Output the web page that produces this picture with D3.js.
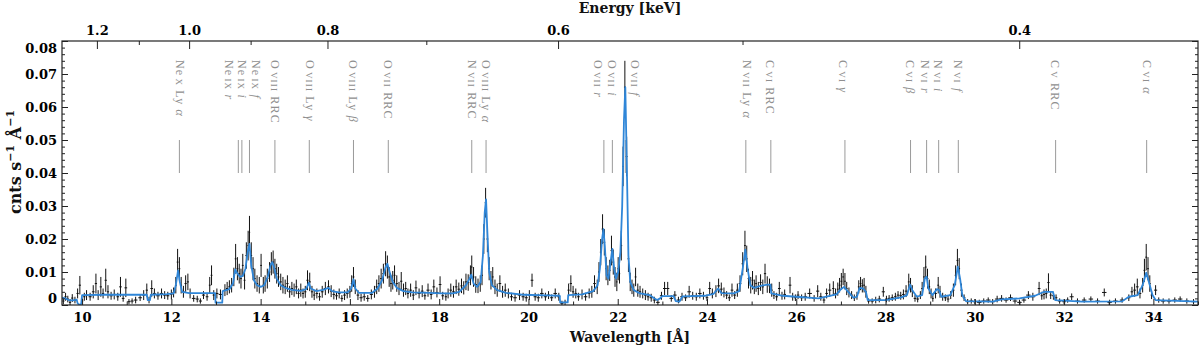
<!DOCTYPE html>
<html>
<head>
<meta charset="utf-8">
<script src="https://cdn.jsdelivr.net/npm/d3@7"></script>
<style>
  body { margin: 0; background: #fff; }
  svg { display: block; }
</style>
</head>
<body>
<div id="chart"></div>
<script>
// observed spectrum: [wavelength (A), flux (cnts/s/A), 1-sigma error]
const observed = [
  [9.58,.0012,.001],[9.63,.0025,.0012],[9.68,.0018,.001],[9.73,.0008,.001],[9.78,.0021,.0012],
  [9.84,.0015,.001],[9.90,.0035,.0015],[9.95,.0060,.0028],[10.00,.0012,.001],[10.05,.0025,.0012],
  [10.10,.0030,.0015],[10.18,.0025,.0012],[10.25,.0040,.002],[10.31,.0065,.003],[10.36,.0030,.0015],
  [10.42,.0055,.003],[10.47,.0035,.0015],[10.53,.0075,.0035],[10.58,.0040,.002],[10.65,.0028,.0012],
  [10.72,.0032,.0015],[10.80,.0025,.0012],[10.86,.0055,.003],[10.92,.0020,.001],[10.98,.0052,.0028],
  [11.05,.0010,.0008],[11.12,.0012,.0008],[11.20,.0015,.001],[11.30,.0022,.001],[11.38,.0030,.0015],
  [11.45,.0045,.002],[11.50,.0015,.001],[11.56,.0050,.0025],[11.62,.0035,.0015],[11.70,.0028,.0012],
  [11.78,.0035,.0015],[11.85,.0030,.0012],[11.92,.0028,.0012],[12.00,.0032,.0015],[12.05,.0038,.0015],
  [12.10,.0060,.0025],[12.14,.0130,.004],[12.18,.0110,.0035],[12.22,.0060,.0025],[12.27,.0040,.0018],
  [12.32,.0065,.0025],[12.37,.0070,.0025],[12.42,.0035,.0015],[12.50,.0020,.001],[12.58,.0018,.001],
  [12.65,.0012,.0008],[12.72,.0030,.0012],[12.80,.0025,.0012],[12.86,.0060,.0025],[12.90,.0090,.003],
  [12.95,.0030,.0015],[13.02,.0035,.0015],[13.10,.0032,.0015],[13.20,.0045,.0018],[13.25,.0050,.002],
  [13.30,.0055,.002],[13.35,.0060,.0022],[13.40,.0085,.0028],[13.44,.0140,.0045],[13.48,.0110,.0035],
  [13.52,.0095,.003],[13.56,.0080,.003],[13.60,.0120,.0035],[13.64,.0075,.0028],[13.68,.0150,.004],
  [13.72,.0180,.0045],[13.75,.0220,.005],[13.79,.0150,.004],[13.83,.0110,.0035],[13.87,.0080,.003],
  [13.92,.0065,.0025],[13.97,.0060,.0025],[14.01,.0120,.0035],[14.06,.0060,.0025],[14.10,.0065,.0025],
  [14.15,.0080,.003],[14.20,.0100,.003],[14.24,.0125,.0035],[14.28,.0130,.0035],[14.32,.0110,.003],
  [14.36,.0095,.003],[14.40,.0085,.003],[14.45,.0070,.0025],[14.50,.0060,.0025],[14.55,.0055,.0022],
  [14.60,.0065,.0025],[14.65,.0040,.0018],[14.70,.0050,.002],[14.75,.0045,.002],[14.80,.0055,.0022],
  [14.85,.0035,.0015],[14.90,.0045,.002],[14.95,.0035,.0015],[15.00,.0040,.0018],[15.05,.0075,.003],
  [15.10,.0070,.0028],[15.15,.0040,.0018],[15.20,.0030,.0015],[15.26,.0035,.0015],[15.32,.0025,.0012],
  [15.38,.0040,.0018],[15.45,.0050,.002],[15.52,.0055,.002],[15.58,.0042,.0018],[15.64,.0032,.0015],
  [15.70,.0028,.0012],[15.76,.0035,.0015],[15.82,.0020,.001],[15.88,.0030,.0015],[15.94,.0035,.0015],
  [16.00,.0040,.0018],[16.04,.0065,.0025],[16.08,.0085,.003],[16.12,.0055,.0022],[16.18,.0030,.0015],
  [16.25,.0022,.0012],[16.32,.0025,.0012],[16.40,.0020,.001],[16.48,.0032,.0015],[16.55,.0040,.0018],
  [16.60,.0055,.0022],[16.65,.0065,.0025],[16.70,.0080,.003],[16.75,.0095,.003],[16.80,.0125,.0038],
  [16.84,.0115,.0035],[16.88,.0085,.003],[16.92,.0065,.0025],[16.96,.0075,.0028],[17.00,.0090,.003],
  [17.05,.0065,.0025],[17.10,.0050,.002],[17.15,.0072,.0028],[17.20,.0045,.002],[17.25,.0050,.002],
  [17.30,.0035,.0015],[17.36,.0045,.002],[17.42,.0030,.0015],[17.48,.0052,.0022],[17.55,.0035,.0015],
  [17.62,.0042,.0018],[17.68,.0028,.0012],[17.75,.0045,.002],[17.82,.0032,.0015],[17.88,.0055,.0022],
  [17.95,.0038,.0015],[18.02,.0062,.0025],[18.08,.0028,.0012],[18.15,.0025,.0012],[18.20,.0035,.0015],
  [18.26,.0045,.002],[18.32,.0040,.0018],[18.38,.0055,.0022],[18.44,.0048,.002],[18.50,.0058,.0022],
  [18.55,.0052,.002],[18.60,.0070,.0025],[18.65,.0068,.0025],[18.70,.0090,.003],[18.73,.0115,.0035],
  [18.77,.0085,.003],[18.82,.0062,.0025],[18.87,.0058,.0022],[18.92,.0065,.0025],[18.96,.0090,.003],
  [19.00,.0200,.0045],[19.04,.0310,.0045],[19.08,.0200,.004],[19.12,.0110,.0035],[19.16,.0075,.0028],
  [19.20,.0085,.003],[19.25,.0055,.0022],[19.30,.0045,.002],[19.36,.0065,.0025],[19.42,.0040,.0018],
  [19.48,.0045,.002],[19.55,.0035,.0015],[19.62,.0025,.0012],[19.70,.0022,.0012],[19.80,.0030,.0015],
  [19.88,.0025,.0012],[19.95,.0022,.0012],[20.02,.0030,.0015],[20.08,.0075,.002],[20.15,.0025,.0012],
  [20.22,.0022,.0012],[20.30,.0035,.0015],[20.38,.0025,.0012],[20.45,.0030,.0012],[20.52,.0022,.001],
  [20.60,.0035,.0015],[20.68,.0025,.0012],[20.75,.0005,.0008],[20.82,.0008,.0008],[20.90,.0045,.002],
  [20.95,.0065,.0025],[21.00,.0040,.0018],[21.06,.0035,.0015],[21.12,.0025,.0012],[21.20,.0032,.0015],
  [21.28,.0025,.0012],[21.36,.0035,.0015],[21.42,.0040,.0018],[21.48,.0065,.0025],[21.54,.0055,.0022],
  [21.58,.0100,.003],[21.62,.0160,.004],[21.66,.0230,.0045],[21.70,.0190,.004],[21.74,.0110,.0035],
  [21.78,.0090,.003],[21.82,.0105,.0032],[21.86,.0165,.0045],[21.90,.0130,.0038],[21.94,.0085,.003],
  [21.98,.0070,.0028],[22.01,.0110,.0035],[22.04,.0095,.003],[22.08,.0180,.0045],[22.12,.0420,.006],
  [22.16,.0660,.008],[22.20,.0450,.006],[22.24,.0140,.004],[22.28,.0070,.0028],[22.32,.0055,.0022],
  [22.36,.0045,.002],[22.40,.0085,.0028],[22.45,.0045,.002],[22.50,.0040,.0018],[22.56,.0035,.0015],
  [22.62,.0030,.0015],[22.68,.0025,.0012],[22.75,.0022,.0012],[22.82,.0015,.001],[22.90,.0008,.0008],
  [22.98,.0028,.0012],[23.05,.0050,.002],[23.12,.0050,.002],[23.20,.0020,.001],[23.28,.0030,.0012],
  [23.36,.0015,.001],[23.44,.0025,.0012],[23.52,.0022,.001],[23.60,.0040,.0018],[23.68,.0028,.0012],
  [23.76,.0025,.0012],[23.84,.0035,.0015],[23.92,.0028,.0012],[24.00,.0022,.001],[24.06,.0050,.002],
  [24.12,.0035,.0015],[24.20,.0042,.0018],[24.26,.0058,.0022],[24.32,.0048,.002],[24.38,.0038,.0015],
  [24.44,.0030,.0012],[24.50,.0022,.001],[24.56,.0045,.002],[24.62,.0030,.0012],[24.68,.0045,.002],
  [24.74,.0065,.0025],[24.80,.0125,.0035],[24.85,.0180,.0045],[24.89,.0140,.004],[24.93,.0080,.003],
  [24.98,.0060,.0025],[25.02,.0075,.0028],[25.06,.0055,.0022],[25.10,.0065,.0025],[25.15,.0050,.002],
  [25.20,.0068,.0025],[25.25,.0055,.0022],[25.30,.0095,.003],[25.35,.0062,.0025],[25.40,.0058,.0022],
  [25.45,.0045,.002],[25.50,.0030,.0012],[25.56,.0025,.0012],[25.62,.0050,.002],[25.68,.0028,.0012],
  [25.74,.0032,.0015],[25.86,.0060,.0025],[25.92,.0025,.0012],[25.98,.0022,.001],[26.04,.0030,.0012],
  [26.12,.0022,.001],[26.20,.0025,.0012],[26.30,.0035,.0015],[26.40,.0020,.001],[26.48,.0042,.0018],
  [26.55,.0025,.0012],[26.62,.0015,.001],[26.68,.0035,.0015],[26.75,.0045,.002],[26.83,.0050,.0022],
  [26.88,.0035,.0015],[26.93,.0048,.002],[26.97,.0060,.0022],[27.01,.0072,.0025],[27.05,.0085,.0025],
  [27.09,.0072,.0025],[27.13,.0050,.002],[27.18,.0038,.0015],[27.24,.0030,.0012],[27.30,.0022,.001],
  [27.36,.0028,.0012],[27.40,.0055,.002],[27.44,.0065,.002],[27.48,.0058,.002],[27.52,.0060,.0022],
  [27.56,.0040,.0018],[27.62,.0012,.0008],[27.70,.0012,.0008],[27.78,.0015,.001],[27.86,.0018,.001],
  [27.95,.0040,.0015],[28.02,.0018,.001],[28.08,.0020,.001],[28.15,.0022,.001],[28.22,.0025,.0012],
  [28.28,.0030,.0012],[28.34,.0028,.0012],[28.40,.0032,.0015],[28.46,.0042,.0018],[28.52,.0070,.0025],
  [28.56,.0060,.0022],[28.60,.0042,.0018],[28.66,.0020,.001],[28.72,.0018,.001],[28.78,.0030,.0012],
  [28.82,.0050,.002],[28.86,.0085,.003],[28.90,.0115,.0035],[28.94,.0080,.003],[28.98,.0055,.0022],
  [29.02,.0035,.0015],[29.06,.0020,.001],[29.12,.0035,.0015],[29.18,.0060,.0025],[29.22,.0040,.0018],
  [29.28,.0025,.0012],[29.34,.0022,.001],[29.40,.0018,.001],[29.46,.0030,.0012],[29.52,.0045,.002],
  [29.57,.0090,.003],[29.61,.0135,.0035],[29.65,.0110,.0032],[29.70,.0045,.002],[29.76,.0022,.001],
  [29.84,.0010,.0008],[29.92,.0012,.0008],[30.00,.0010,.0008],[30.10,.0008,.0008],[30.20,.0012,.0008],
  [30.30,.0015,.0008],[30.40,.0010,.0008],[30.50,.0018,.001],[30.60,.0020,.001],[30.70,.0015,.0008],
  [30.80,.0022,.001],[30.90,.0012,.0008],[31.00,.0008,.0008],[31.10,.0015,.0008],[31.20,.0030,.0012],
  [31.30,.0025,.0012],[31.44,.0050,.002],[31.50,.0028,.0012],[31.55,.0032,.0015],[31.60,.0035,.0015],
  [31.65,.0068,.0028],[31.70,.0030,.0012],[31.76,.0028,.0012],[31.82,.0022,.001],[31.90,.0012,.0008],
  [32.00,.0010,.0008],[32.08,.0015,.0008],[32.17,.0025,.001],[32.30,.0012,.0008],[32.45,.0015,.0008],
  [32.60,.0018,.0008],[32.75,.0012,.0008],[32.90,.0038,.0012],[33.02,.0008,.0008],[33.15,.0012,.0008],
  [33.30,.0015,.0008],[33.45,.0022,.001],[33.52,.0040,.0015],[33.58,.0045,.002],[33.64,.0055,.0025],
  [33.70,.0035,.0015],[33.76,.0060,.0022],[33.80,.0105,.0035],[33.84,.0145,.004],[33.88,.0110,.0035],
  [33.92,.0065,.0025],[33.96,.0030,.0012],[34.05,.0045,.0015],[34.12,.0015,.0008],[34.22,.0012,.0008],
  [34.35,.0012,.0008],[34.48,.0015,.0008],[34.60,.0018,.0008],[34.75,.0012,.0008],[34.90,.0010,.0008]
];

// best-fit model: [wavelength (A), flux]
const model = [
  [9.55,.0022],[9.62,.0020],[9.70,.0015],[9.80,.0014],[9.88,.0016],[9.90,.0005],[9.95,.0000],
  [9.98,.0003],[10.00,.0030],[10.50,.0031],[11.00,.0031],[11.45,.0031],[11.47,.0015],[11.52,.0015],
  [11.54,.0031],[11.90,.0033],[12.05,.0035],[12.10,.0060],[12.15,.0105],[12.19,.0070],[12.24,.0040],
  [12.40,.0036],[12.98,.0036],[12.99,.0007],[13.14,.0007],[13.15,.0042],[13.30,.0048],[13.38,.0065],
  [13.43,.0108],[13.48,.0095],[13.54,.0085],[13.60,.0088],[13.66,.0110],[13.71,.0160],[13.75,.0185],
  [13.79,.0120],[13.85,.0075],[13.92,.0060],[14.00,.0055],[14.08,.0060],[14.16,.0085],[14.22,.0120],
  [14.26,.0130],[14.30,.0115],[14.36,.0080],[14.45,.0060],[14.55,.0052],[14.70,.0046],[14.90,.0043],
  [15.02,.0048],[15.08,.0068],[15.12,.0050],[15.25,.0042],[15.40,.0046],[15.52,.0052],[15.60,.0042],
  [15.75,.0038],[15.95,.0038],[16.03,.0050],[16.08,.0078],[16.12,.0050],[16.20,.0037],[16.50,.0037],
  [16.62,.0050],[16.72,.0075],[16.80,.0115],[16.84,.0125],[16.90,.0095],[16.96,.0070],[17.05,.0052],
  [17.20,.0042],[17.40,.0038],[17.80,.0037],[18.05,.0035],[18.30,.0035],[18.45,.0040],[18.60,.0060],
  [18.68,.0080],[18.72,.0092],[18.77,.0065],[18.85,.0055],[18.93,.0070],[18.98,.0150],[19.02,.0280],
  [19.05,.0320],[19.08,.0220],[19.12,.0100],[19.18,.0060],[19.30,.0045],[19.50,.0037],[19.90,.0031],
  [20.40,.0029],[20.70,.0028],[20.71,.0008],[20.88,.0008],[20.89,.0030],[21.20,.0032],[21.45,.0042],
  [21.55,.0060],[21.60,.0110],[21.65,.0200],[21.68,.0230],[21.71,.0180],[21.75,.0090],[21.79,.0080],
  [21.84,.0130],[21.88,.0170],[21.92,.0110],[21.96,.0080],[22.01,.0100],[22.06,.0160],[22.10,.0300],
  [22.14,.0560],[22.17,.0660],[22.20,.0450],[22.24,.0150],[22.28,.0070],[22.36,.0045],[22.50,.0035],
  [22.72,.0030],[22.80,.0022],[22.88,.0015],[22.95,.0020],[23.00,.0027],[23.25,.0027],[23.30,.0012],
  [23.38,.0010],[23.45,.0026],[23.95,.0028],[24.15,.0034],[24.25,.0050],[24.32,.0036],[24.60,.0035],
  [24.72,.0042],[24.80,.0110],[24.86,.0168],[24.91,.0110],[24.97,.0060],[25.05,.0052],[25.20,.0058],
  [25.35,.0062],[25.42,.0062],[25.44,.0035],[25.70,.0028],[26.00,.0025],[26.50,.0020],[26.75,.0028],
  [26.90,.0032],[27.00,.0048],[27.07,.0055],[27.15,.0042],[27.28,.0022],[27.36,.0025],[27.42,.0052],
  [27.50,.0050],[27.56,.0040],[27.60,.0015],[28.00,.0015],[28.35,.0023],[28.48,.0030],[28.55,.0062],
  [28.60,.0045],[28.70,.0025],[28.82,.0030],[28.88,.0080],[28.92,.0086],[28.96,.0050],[29.05,.0030],
  [29.15,.0048],[29.20,.0045],[29.25,.0025],[29.45,.0030],[29.55,.0060],[29.62,.0116],[29.67,.0080],
  [29.72,.0030],[29.80,.0012],[30.40,.0010],[30.60,.0017],[31.00,.0020],[31.35,.0028],[31.55,.0040],
  [31.75,.0040],[31.80,.0015],[32.40,.0010],[33.30,.0011],[33.45,.0025],[33.65,.0030],[33.76,.0060],
  [33.84,.0098],[33.90,.0070],[33.98,.0030],[34.05,.0015],[35.00,.0010]
];

// line identifications: marker wavelength, label position (A) and label parts
const lineWaves = [12.18, 13.50, 13.58, 13.75, 14.32, 15.09, 16.08, 16.86, 18.73, 19.05,
  21.69, 21.88, 22.17, 24.87, 25.43, 27.09, 28.56, 28.92, 29.19, 29.63, 31.81, 33.85];
const labelWaves = [12.195, 13.29, 13.58, 13.89, 14.32, 15.11, 16.07, 16.85, 18.73, 19.05,
  21.56, 21.87, 22.39, 24.89, 25.41, 27.05, 28.55, 28.88, 29.18, 29.62, 31.80, 33.86];
const lineLabels = [
  ["Ne", "X", "Ly", "α"], ["Ne", "IX", "", "r"], ["Ne", "IX", "", "i"], ["Ne", "IX", "", "f"],
  ["O", "VIII", "RRC", ""], ["O", "VIII", "Ly", "γ"], ["O", "VIII", "Ly", "β"], ["O", "VII", "RRC", ""],
  ["N", "VII", "RRC", ""], ["O", "VIII", "Ly", "α"], ["O", "VII", "", "r"], ["O", "VII", "", "i"],
  ["O", "VII", "", "f"], ["N", "VII", "Ly", "α"], ["C", "VI", "RRC", ""], ["C", "VI", "", "γ"],
  ["C", "VI", "", "β"], ["N", "VI", "", "r"], ["N", "VI", "", "i"], ["N", "VI", "", "f"],
  ["C", "V", "RRC", ""], ["C", "VI", "", "α"]
];

// axis ticks
const waveTicks = [10, 12, 14, 16, 18, 20, 22, 24, 26, 28, 30, 32, 34];
const waveMinorTicks = [11, 13, 15, 17, 19, 21, 23, 25, 27, 29, 31, 33, 35];
const energyTicks = [1.2, 1.0, 0.8, 0.6, 0.4];
const energyMinorTicks = [1.1, 0.9, 0.7, 0.5];
const fluxTicks = [0, 0.01, 0.02, 0.03, 0.04, 0.05, 0.06, 0.07, 0.08];
const HC = 12.398; // keV * A

const W = 1200, H = 347;
const margin = { top: 41, right: 2, bottom: 42, left: 62 };
const serif = "'DejaVu Serif', 'Liberation Serif', serif";

const svg = d3.select("#chart").append("svg")
  .attr("width", W).attr("height", H)
  .style("background", "#fff");

const x = d3.scaleLinear().domain([9.55, 35]).range([margin.left, W - margin.right]);
const y = d3.scaleLinear().domain([0, 0.08]).range([H - margin.bottom, margin.top]);

svg.append("clipPath").attr("id", "plot-clip")
  .append("rect")
  .attr("x", margin.left).attr("y", margin.top)
  .attr("width", W - margin.left - margin.right)
  .attr("height", H - margin.top - margin.bottom);

const plot = svg.append("g").attr("clip-path", "url(#plot-clip)");

// line markers (0.04 - 0.05)
plot.append("g")
  .selectAll("line")
  .data(lineWaves)
  .join("line")
  .attr("x1", d => x(d)).attr("x2", d => x(d))
  .attr("y1", y(0.04)).attr("y2", y(0.05))
  .attr("stroke", "#9a9a9a")
  .attr("stroke-width", 1);

// observed data: error bars + bin widths
const binHalf = observed.map((d, i) => {
  const prev = i > 0 ? d[0] - observed[i - 1][0] : 0.1;
  const next = i < observed.length - 1 ? observed[i + 1][0] - d[0] : 0.1;
  return Math.min(prev, next, 0.1) / 2;
});

const dataG = plot.append("g")
  .attr("stroke", "#111")
  .attr("stroke-width", 1);

dataG.selectAll("line.err")
  .data(observed)
  .join("line")
  .attr("class", "err")
  .attr("x1", d => x(d[0])).attr("x2", d => x(d[0]))
  .attr("y1", d => y(d[1] - d[2])).attr("y2", d => y(d[1] + d[2]));

dataG.selectAll("line.bin")
  .data(observed)
  .join("line")
  .attr("class", "bin")
  .attr("x1", (d, i) => x(d[0] - binHalf[i])).attr("x2", (d, i) => x(d[0] + binHalf[i]))
  .attr("y1", d => y(d[1])).attr("y2", d => y(d[1]));

// model
plot.append("path")
  .datum(model)
  .attr("fill", "none")
  .attr("stroke", "#2f86d8")
  .attr("stroke-width", 1.8)
  .attr("stroke-linejoin", "round")
  .attr("d", d3.line().x(d => x(d[0])).y(d => y(d[1])));

// line labels, rotated to read downwards
const labels = svg.append("g")
  .attr("font-family", "'Liberation Serif', serif")
  .attr("font-size", 12)
  .attr("letter-spacing", 1.2)
  .attr("fill", "#8f8f8f")
  .selectAll("text")
  .data(lineLabels)
  .join("text")
  .attr("transform", (d, i) => `translate(${x(labelWaves[i])},60) rotate(90)`)
  .attr("dy", "0.33em");

labels.append("tspan").text(d => d[0]);
labels.append("tspan").attr("font-size", 9).attr("dx", 2).text(d => d[1]);
labels.append("tspan").text(d => d[2] ? " " + d[2] : "");
labels.append("tspan").attr("font-style", "italic").text(d => d[3] ? " " + d[3] : "");

// axes
const axisFont = g => g
  .attr("font-family", serif)
  .attr("font-size", 13)
  .attr("font-weight", "bold")
  .call(g => g.select(".domain").remove())
  .call(g => g.selectAll(".tick line").attr("stroke", "#222").attr("stroke-width", 1));

svg.append("g")
  .attr("transform", `translate(0,${H - margin.bottom})`)
  .call(d3.axisBottom(x).tickValues(waveTicks).tickSize(-6).tickPadding(8).tickFormat(d3.format("d")))
  .call(axisFont);
svg.append("g")
  .attr("transform", `translate(0,${H - margin.bottom})`)
  .call(d3.axisBottom(x).tickValues(waveMinorTicks).tickSize(-3.5).tickFormat(""))
  .call(axisFont);

svg.append("g")
  .attr("transform", `translate(0,${margin.top})`)
  .call(d3.axisTop(x).tickValues(energyTicks.map(e => HC / e)).tickSize(-8).tickPadding(6)
    .tickFormat(w => d3.format(".1f")(HC / w)))
  .call(axisFont);
svg.append("g")
  .attr("transform", `translate(0,${margin.top})`)
  .call(d3.axisTop(x).tickValues(energyMinorTicks.map(e => HC / e)).tickSize(-4).tickFormat(""))
  .call(axisFont);

const yFmt = d => d === 0 ? "0" : d3.format(".2f")(d);
const yMinor = d3.range(0, 0.0801, 0.002).filter(v => Math.abs(v * 100 - Math.round(v * 100)) > 1e-6);

const yLeft = svg.append("g")
  .attr("transform", `translate(${margin.left},0)`)
  .call(d3.axisLeft(y).tickValues(fluxTicks).tickSize(-6).tickPadding(5).tickFormat(yFmt))
  .call(axisFont);
// end labels are nudged inside the frame
yLeft.selectAll(".tick text")
  .attr("dy", d => d === 0.08 ? "0.85em" : d === 0 ? "-0.2em" : "0.32em");
svg.append("g")
  .attr("transform", `translate(${margin.left},0)`)
  .call(d3.axisLeft(y).tickValues(yMinor).tickSize(-3).tickFormat(""))
  .call(axisFont);
svg.append("g")
  .attr("transform", `translate(${W - margin.right},0)`)
  .call(d3.axisRight(y).tickValues(fluxTicks).tickSize(-6).tickFormat(""))
  .call(axisFont);
svg.append("g")
  .attr("transform", `translate(${W - margin.right},0)`)
  .call(d3.axisRight(y).tickValues(yMinor).tickSize(-3).tickFormat(""))
  .call(axisFont);

// frame
svg.append("rect")
  .attr("x", margin.left).attr("y", margin.top)
  .attr("width", W - margin.left - margin.right)
  .attr("height", H - margin.top - margin.bottom)
  .attr("fill", "none")
  .attr("stroke", "#222")
  .attr("stroke-width", 1.2);

// titles
const title = svg.append("g")
  .attr("font-family", serif)
  .attr("font-weight", "bold")
  .attr("font-size", 14)
  .attr("fill", "#111");

title.append("text")
  .attr("x", (margin.left + W - margin.right) / 2).attr("y", 13)
  .attr("text-anchor", "middle")
  .text("Energy [keV]");

title.append("text")
  .attr("x", (margin.left + W - margin.right) / 2).attr("y", 342)
  .attr("text-anchor", "middle")
  .text("Wavelength [Å]");

const yTitle = title.append("text")
  .attr("transform", "translate(21,162) rotate(-90)")
  .attr("text-anchor", "middle")
  .attr("font-size", 16);
yTitle.append("tspan").text("cnts s");
yTitle.append("tspan").attr("font-size", 11).attr("dy", -7).text("−1");
yTitle.append("tspan").attr("dy", 7).text(" Å");
yTitle.append("tspan").attr("font-size", 11).attr("dy", -7).text("−1");
</script>
</body>
</html>
